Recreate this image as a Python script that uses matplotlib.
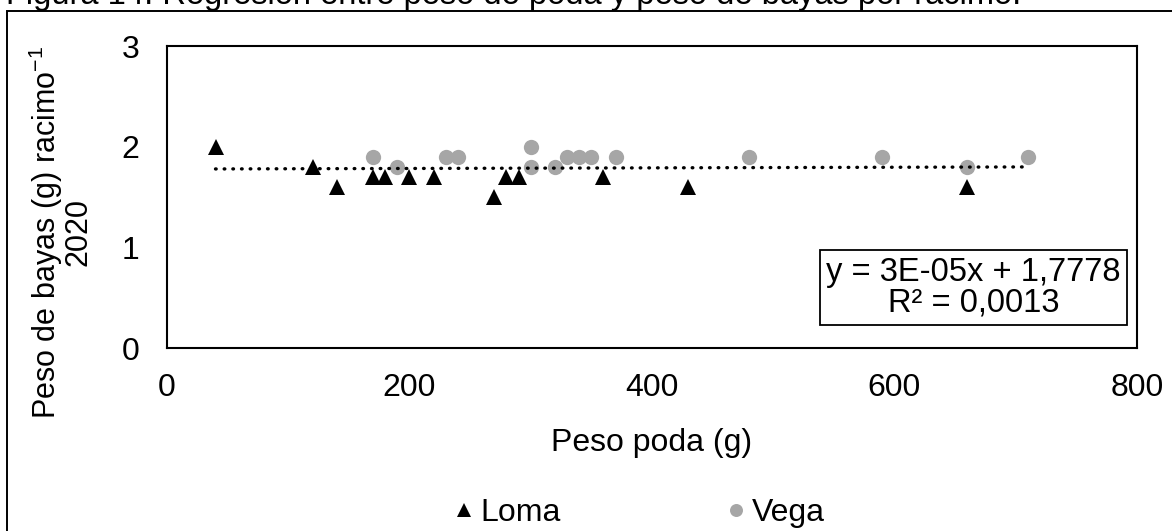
import matplotlib
matplotlib.use("Agg")
import matplotlib.pyplot as plt
from matplotlib.patches import Rectangle

plt.rcParams['font.family'] = ['Liberation Sans', 'DejaVu Sans']
plt.rcParams['mathtext.default'] = 'regular'

# Loma (triangulos)
loma_x = [40, 120, 140, 170, 180, 200, 220, 270, 280, 290, 360, 430, 660]
loma_y = [2.0, 1.8, 1.6, 1.7, 1.7, 1.7, 1.7, 1.5, 1.7, 1.7, 1.7, 1.6, 1.6]

# Vega (circulos)
vega_x = [170, 190, 230, 240, 300, 300, 320, 330, 340, 350, 370, 480, 590, 660, 710]
vega_y = [1.9, 1.8, 1.9, 1.9, 2.0, 1.8, 1.8, 1.9, 1.9, 1.9, 1.9, 1.9, 1.9, 1.8, 1.9]

# linea de tendencia (ecuacion del grafico)
trend_slope = 3e-05
trend_intercept = 1.7778
trend_label = "y = 3E-05x + 1,7778\nR² = 0,0013"

x_ticks = [0, 200, 400, 600, 800]
y_ticks = [0, 1, 2, 3]

fs = 23

fig = plt.figure(figsize=(11.72, 5.31), dpi=100)
ax = fig.add_axes([0.1425, 0.3446, 0.8276, 0.5687])

all_x = loma_x + vega_x
tx = [min(all_x), max(all_x)]
ty = [trend_slope * v + trend_intercept for v in tx]
ax.plot(tx, ty, color='black', linestyle=(0, (0.2, 2.4)), linewidth=2.4,
        dash_capstyle='round', zorder=3)

ax.plot(vega_x, vega_y, 'o', color='#a6a6a6', markersize=11, markeredgewidth=0,
        label='Vega', zorder=2)
ax.plot(loma_x, loma_y, '^', color='black', markersize=11.5, markeredgewidth=0,
        label='Loma', zorder=4)

ax.set_xlim(0, 800)
ax.set_ylim(0, 3)
ax.set_xticks(x_ticks)
ax.set_yticks(y_ticks)
ax.tick_params(length=0, labelsize=fs)
ax.tick_params(axis='x', pad=18)
ax.tick_params(axis='y', pad=20)
for s in ax.spines.values():
    s.set_linewidth(1.5)

ax.set_xlabel('Peso poda (g)', fontsize=fs, labelpad=18)

# titulo del eje y (Excel lo coloca algo por debajo del centro)
fig.text(60 / 1172, 1 - 232 / 531, 'Peso de bayas (g) racimo$^{-1}$\n2020',
         fontsize=22, rotation=90, ha='center', va='center',
         multialignment='center', linespacing=0.93)

ax.text(665, 0.60, trend_label, fontsize=23.5, ha='center', va='center',
        linespacing=1.0,
        bbox=dict(boxstyle='square,pad=0.2', facecolor='white',
                  edgecolor='black', linewidth=1.3))

h, l = ax.get_legend_handles_labels()
fig.legend([h[1], h[0]], [l[1], l[0]], loc='center', bbox_to_anchor=(0.546, 0.034),
           ncol=2, frameon=False, fontsize=fs, handlelength=0.6,
           handletextpad=0.2, columnspacing=5.2, markerscale=0.85)

# marco exterior
fig.patches.append(Rectangle((0.006, -0.1), 1.2, 0.1 + 1 - 11 / 531,
                             transform=fig.transFigure, fill=False,
                             edgecolor='black', linewidth=1.4))

fig.text(0.005, 1 - 4 / 531, 'Figura 14. Regresión entre peso de poda y peso de bayas por racimo.',
         fontsize=23.5, va='baseline', ha='left')

fig.savefig('out.png', dpi=100)
